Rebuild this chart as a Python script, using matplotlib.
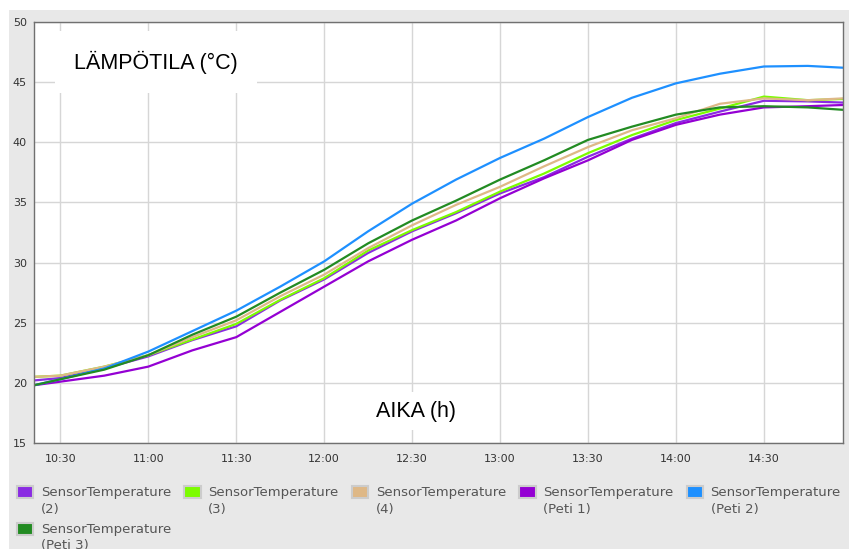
import numpy as np
import pandas as pd
import matplotlib
matplotlib.use("Agg")
import matplotlib.pyplot as plt
import matplotlib.dates as mdates
from matplotlib.patches import Patch, Rectangle
from matplotlib.legend_handler import HandlerPatch

# readings (time of day, deg C)
times = ["10:21", "10:30", "10:45", "11:00", "11:15", "11:30", "11:45", "12:00", "12:15", "12:30",
         "12:45", "13:00", "13:15", "13:30", "13:45", "14:00", "14:15", "14:30", "14:45", "14:57"]

sensor_2 = [20.2, 20.4, 21.2, 22.2, 23.55, 24.7, 26.85, 28.6, 30.8, 32.6,
            34.1, 35.75, 37.1, 38.8, 40.3, 41.6, 42.55, 43.45, 43.4, 43.3]
sensor_3 = [20.5, 20.6, 21.35, 22.3, 23.6, 24.9, 26.9, 28.7, 31.0, 32.7,
            34.2, 35.9, 37.4, 39.1, 40.6, 41.85, 42.8, 43.8, 43.5, 43.6]
sensor_4 = [20.5, 20.6, 21.35, 22.3, 23.8, 25.2, 27.2, 29.0, 31.2, 33.1,
            34.8, 36.3, 38.0, 39.6, 41.0, 42.0, 43.2, 43.65, 43.5, 43.65]
peti_1 = [19.8, 20.1, 20.6, 21.35, 22.7, 23.8, 25.9, 28.0, 30.1, 31.9,
          33.5, 35.35, 37.0, 38.5, 40.2, 41.45, 42.3, 42.9, 43.0, 43.1]
peti_2 = [19.8, 20.3, 21.2, 22.6, 24.3, 26.0, 28.0, 30.1, 32.6, 34.9,
          36.9, 38.7, 40.3, 42.1, 43.7, 44.9, 45.7, 46.3, 46.35, 46.2]
peti_3 = [19.8, 20.3, 21.1, 22.3, 24.0, 25.5, 27.5, 29.4, 31.6, 33.5,
          35.15, 36.9, 38.5, 40.2, 41.3, 42.3, 42.9, 43.0, 42.9, 42.7]

labels = ["SensorTemperature\n(2)", "SensorTemperature\n(3)", "SensorTemperature\n(4)",
          "SensorTemperature\n(Peti 1)", "SensorTemperature\n(Peti 2)", "SensorTemperature\n(Peti 3)"]
colors = ["#8a2be2", "#7cfc00", "#deb887", "#9400d3", "#1e90ff", "#228b22"]

t = pd.to_datetime(["2020-01-01 " + s for s in times])

fig = plt.figure(figsize=(8.49, 5.49), dpi=100)
fig.patch.set_facecolor("white")
# grey panel behind everything
fig.patches.append(Rectangle((9 / 849, 0), 1, 1 - 10 / 549, transform=fig.transFigure,
                             facecolor="#e8e8e8", edgecolor="none", zorder=-10))

ax = fig.add_axes([34 / 849, 1 - 443 / 549, (843 - 34) / 849, (443 - 22) / 549])
ax.set_facecolor("white")

for y, c in zip([sensor_2, sensor_3, sensor_4, peti_1, peti_2, peti_3], colors):
    ax.plot(t, y, color=c, lw=1.6, solid_joinstyle="round")

ax.set_ylim(15, 50)
ax.set_yticks(np.arange(15, 51, 5))
ax.set_xlim(t[0], t[-1])
ax.xaxis.set_major_locator(mdates.MinuteLocator(byminute=[0, 30]))
ax.xaxis.set_major_formatter(mdates.DateFormatter("%H:%M"))
ax.grid(True, color="#d6d6d6", lw=1)
ax.set_axisbelow(True)
ax.tick_params(length=0, labelsize=8, labelcolor="#333333")
ax.tick_params(axis="x", pad=8)
ax.tick_params(axis="y", pad=5)
for s in ax.spines.values():
    s.set_color("#707070")
    s.set_linewidth(1)

ax.text(156 / 849, 1 - 62 / 549, "LÄMPÖTILA (°C)", transform=fig.transFigure,
        ha="center", va="center", fontsize=15.5, family="Liberation Sans",
        bbox=dict(boxstyle="square,pad=0.9", facecolor="white", edgecolor="none"))
ax.text(416 / 849, 1 - 411 / 549, "AIKA (h)", transform=fig.transFigure,
        ha="center", va="center", fontsize=15.5, family="Liberation Sans",
        bbox=dict(boxstyle="square,pad=0.4", facecolor="white", edgecolor="none"))


# legend swatch sits next to the first line of the two-line label
def top_swatch(legend, orig_handle, xdescent, ydescent, width, height, fontsize):
    return Rectangle((-xdescent, -ydescent + 0.68 * fontsize), width, height)


handles = [Patch(facecolor=c, edgecolor="#cccccc", lw=1.5) for c in colors]
# legend fills column by column, so reorder to get rows 2,3,4,Peti1,Peti2 / Peti3
order = [0, 5, 1, 2, 3, 4]
leg = fig.legend([handles[i] for i in order], [labels[i] for i in order], ncol=5,
                 loc="upper left", bbox_to_anchor=(17 / 849, 1 - 486 / 549),
                 frameon=False, fontsize=9.5, labelcolor="#555555", handlelength=1.25,
                 handleheight=1.0, handletextpad=0.55, columnspacing=1.02, labelspacing=0.55,
                 borderpad=0, borderaxespad=0,
                 handler_map={Patch: HandlerPatch(patch_func=top_swatch)})
for txt in leg.get_texts():
    txt.set_linespacing(1.35)

fig.savefig("out.png", dpi=100)
